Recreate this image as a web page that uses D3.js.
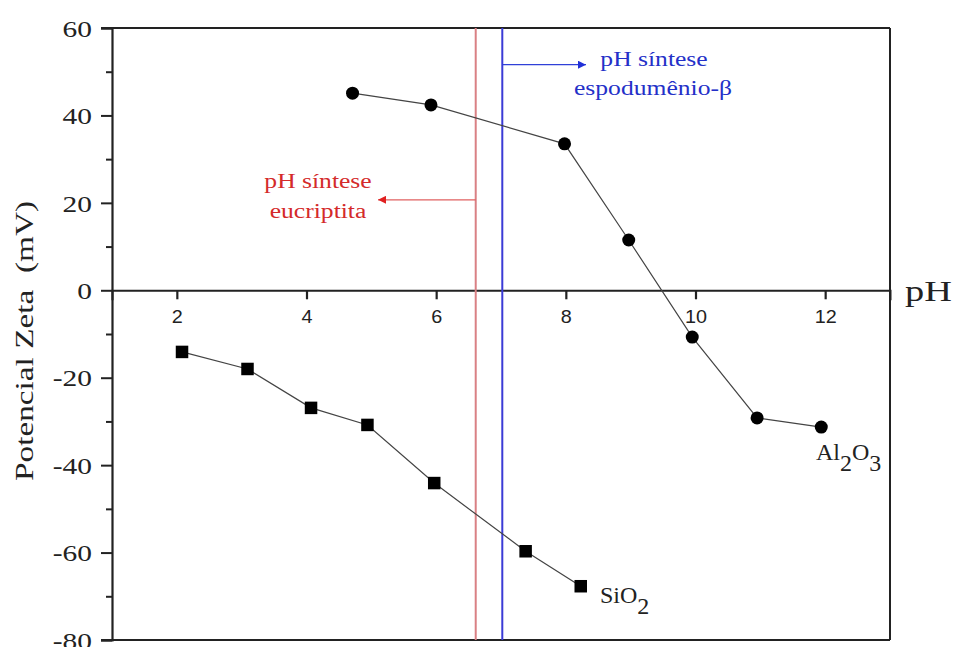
<!DOCTYPE html>
<html>
<head>
<meta charset="utf-8">
<script src="https://cdn.jsdelivr.net/npm/d3@7"></script>
<style>
  body { margin: 0; background: #fff; }
</style>
</head>
<body>
<svg id="chart" width="954" height="647"></svg>
<script>
// zeta potential vs pH
const al2o3_pH   = [4.71, 5.92, 7.98, 8.97, 9.95, 10.95, 11.94];
const al2o3_zeta = [45.1, 42.4, 33.5, 11.5, -10.7, -29.2, -31.3];
const sio2_pH    = [2.08, 3.09, 4.07, 4.94, 5.97, 7.38, 8.23];
const sio2_zeta  = [-14.1, -18.0, -26.9, -30.8, -44.1, -59.7, -67.7];
const xTicks = [2, 4, 6, 8, 10, 12];
const yTicks = [60, 40, 20, 0, -20, -40, -60, -80];
const yMinor = [50, 30, 10, -10, -30, -50, -70];
const phEucriptita = 6.61;
const phEspodumenio = 7.02;

const SERIF = "'Liberation Serif', 'Times New Roman', serif";
const SANS = "'Liberation Sans', Arial, sans-serif";
const STRETCH = 1.28; // the original image is a bit wide

const svg = d3.select("#chart");
const pLeft = 112, pRight = 890, pTop = 28, pBottom = 640;

const x = d3.scaleLinear().domain([1, 13]).range([pLeft, pRight]);
const y = d3.scaleLinear().domain([-80, 60]).range([pBottom, pTop]);
const fmt = d => (d < 0 ? "-" + Math.abs(d) : String(d));

// wide serif text
function wideText(px, py, size, color, txt, anchor) {
  return svg.append("text")
    .attr("transform", `translate(${px},${py}) scale(${STRETCH},1)`)
    .attr("text-anchor", anchor || "middle")
    .style("font-family", SERIF).attr("font-size", size).attr("fill", color)
    .style("white-space", "pre")
    .text(txt);
}

// frame (top + right + bottom)
svg.append("line").attr("x1", pLeft - 11).attr("x2", pRight).attr("y1", pTop).attr("y2", pTop)
  .attr("stroke", "#222").attr("stroke-width", 2);
svg.append("line").attr("x1", pRight).attr("x2", pRight).attr("y1", pTop).attr("y2", pBottom)
  .attr("stroke", "#222").attr("stroke-width", 2);
svg.append("line").attr("x1", pLeft - 11).attr("x2", pRight).attr("y1", pBottom).attr("y2", pBottom)
  .attr("stroke", "#222").attr("stroke-width", 2);

// y axis
const yAxis = svg.append("g").attr("transform", `translate(${pLeft},0)`)
  .call(d3.axisLeft(y).tickValues(yTicks).tickSize(11).tickPadding(5).tickFormat(fmt));
yAxis.select(".domain").attr("stroke", "#222").attr("stroke-width", 2.2);
yAxis.selectAll(".tick line").attr("stroke", "#222").attr("stroke-width", 2);
yAxis.selectAll(".tick text")
  .style("font-family", SERIF)
  .attr("font-size", 23).attr("fill", "#222")
  .attr("x", -20 / STRETCH).attr("dy", "0.36em")
  .attr("transform", `scale(${STRETCH},1)`);
const yAxisMinor = svg.append("g").attr("transform", `translate(${pLeft},0)`)
  .call(d3.axisLeft(y).tickValues(yMinor).tickSize(6).tickFormat(""));
yAxisMinor.select(".domain").remove();
yAxisMinor.selectAll(".tick line").attr("stroke", "#222").attr("stroke-width", 2);

// x axis crossing at zero
const xAxis = svg.append("g").attr("transform", `translate(0,${y(0)})`)
  .call(d3.axisBottom(x).tickValues(xTicks).tickSize(10).tickPadding(10).tickFormat(fmt));
xAxis.select(".domain").attr("stroke", "#222").attr("stroke-width", 2);
xAxis.selectAll(".tick line").attr("stroke", "#222").attr("stroke-width", 2.2)
  .attr("y1", 0).attr("y2", 9);
xAxis.selectAll(".tick text")
  .style("font-family", SANS)
  .attr("font-size", 18).attr("fill", "#222")
  .attr("transform", "scale(1.1,1)");

wideText(905, 301, 30, "#222", "pH", "start");

svg.append("text")
  .attr("transform", `translate(33,341) rotate(-90) scale(${STRETCH},1)`)
  .attr("text-anchor", "middle")
  .style("font-family", SERIF).style("white-space", "pre")
  .attr("font-size", 26).attr("fill", "#222")
  .text("Potencial Zeta  (mV)");

// vertical synthesis lines
svg.append("line").attr("x1", x(phEucriptita)).attr("x2", x(phEucriptita))
  .attr("y1", pTop).attr("y2", pBottom).attr("stroke", "#d98084").attr("stroke-width", 2);
svg.append("line").attr("x1", x(phEspodumenio)).attr("x2", x(phEspodumenio))
  .attr("y1", pTop).attr("y2", pBottom).attr("stroke", "#3b3bd6").attr("stroke-width", 2);

// arrows
const defs = svg.append("defs");
[["arrRed", "#e02020"], ["arrBlue", "#2030d8"]].forEach(function (a) {
  defs.append("marker").attr("id", a[0]).attr("viewBox", "0 0 10 10")
    .attr("refX", 10).attr("refY", 5).attr("markerWidth", 16).attr("markerHeight", 8)
    .attr("markerUnits", "userSpaceOnUse").attr("orient", "auto")
    .append("path").attr("d", "M0,0L10,5L0,10Z").attr("fill", a[1]);
});
svg.append("line").attr("x1", x(phEucriptita)).attr("x2", 378)
  .attr("y1", y(20.7)).attr("y2", y(20.7))
  .attr("stroke", "#e06060").attr("stroke-width", 1.2).attr("marker-end", "url(#arrRed)");
svg.append("line").attr("x1", x(phEspodumenio)).attr("x2", 586)
  .attr("y1", y(51.6)).attr("y2", y(51.6))
  .attr("stroke", "#3040d8").attr("stroke-width", 1.2).attr("marker-end", "url(#arrBlue)");

wideText(318, 188, 20, "#d42a2a", "pH síntese");
wideText(318, 218, 20, "#d42a2a", "eucriptita");
wideText(654, 66, 20, "#2430c8", "pH síntese");
wideText(653, 95, 20, "#2430c8", "espodumênio-β");

// series
const line = d3.line().x(d => x(d[0])).y(d => y(d[1]));
const al = d3.zip(al2o3_pH, al2o3_zeta);
const si = d3.zip(sio2_pH, sio2_zeta);

svg.append("path").datum(al).attr("d", line).attr("fill", "none")
  .attr("stroke", "#444").attr("stroke-width", 1.2);
svg.append("path").datum(si).attr("d", line).attr("fill", "none")
  .attr("stroke", "#444").attr("stroke-width", 1.2);

svg.selectAll(".al").data(al).enter().append("circle")
  .attr("cx", d => x(d[0])).attr("cy", d => y(d[1])).attr("r", 6.5).attr("fill", "#000");
svg.selectAll(".si").data(si).enter().append("rect")
  .attr("x", d => x(d[0]) - 6.25).attr("y", d => y(d[1]) - 6.25)
  .attr("width", 12.5).attr("height", 12.5).attr("fill", "#000");

// series labels
const alLab = svg.append("text").attr("x", 816).attr("y", 460)
  .style("font-family", SERIF).attr("font-size", 24).attr("fill", "#222");
alLab.append("tspan").text("Al");
alLab.append("tspan").attr("dy", 11).text("2");
alLab.append("tspan").attr("dy", -11).text("O");
alLab.append("tspan").attr("dy", 11).text("3");
const siLab = svg.append("text").attr("x", 600).attr("y", 603)
  .style("font-family", SERIF).attr("font-size", 24).attr("fill", "#222");
siLab.append("tspan").text("SiO");
siLab.append("tspan").attr("dy", 11).text("2");
</script>
</body>
</html>
